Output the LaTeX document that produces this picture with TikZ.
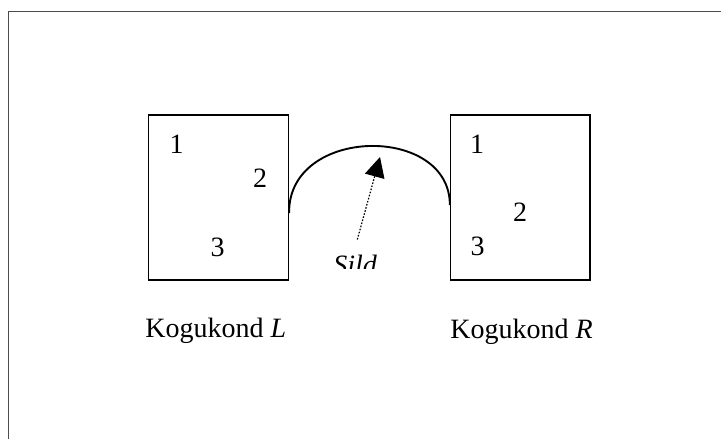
\documentclass[tikz,border=0pt]{standalone}
\usepackage{fontspec}
\setmainfont{Liberation Serif}
\usetikzlibrary{arrows.meta}
\begin{document}
\begin{tikzpicture}[x=0.5pt,y=-0.5pt,
  frameline/.style={draw=black!70, line width=0.7pt},
  boxline/.style={draw=black, line width=0.8pt},
  lbl/.style={inner sep=0pt, anchor=base, font=\fontsize{14pt}{16pt}\selectfont},
  arcline/.style={line width=0.95pt},
  dotline/.style={line width=0.6pt, dash pattern=on 0.8pt off 0.8pt}]
\useasboundingbox (0,0) rectangle (721,439);
% outer frame (cut off at right and bottom)
\coordinate (fbl) at (8.3,439);
\coordinate (ftl) at (8.3,11.7);
\coordinate (ftr) at (721,11.7);
\draw[frameline] (fbl) -- (ftl) -- (ftr);
% boxes
\node[boxline, minimum width=140pt*0.5, minimum height=165pt*0.5, inner sep=0pt] (boxL) at (218.3,197.5) {};
\node[boxline, minimum width=139.3pt*0.5, minimum height=165pt*0.5, inner sep=0pt] (boxR) at (520.3,197.5) {};
% numbers left
\node[lbl] (l1) at (176.7,153.3) {1};
\node[lbl] (l2) at (260,187) {2};
\node[lbl] (l3) at (217.7,256) {3};
% numbers right
\node[lbl] (r1) at (477,153.3) {1};
\node[lbl] (r2) at (520,221.5) {2};
\node[lbl] (r3) at (477.7,255.5) {3};
% arc
\coordinate (aL) at (boxL.east |- 0,213);
\coordinate (aR) at (boxR.west |- 0,205);
\draw[arcline] (aL) .. controls (288,126) and (450,124) .. (aR);
% arrow
\coordinate (as) at (357.3,239.5);
\coordinate (at) at (380,157);
\draw[dotline, -{Triangle[length=10pt,width=10pt]}] (as) -- (at);
% Sild (clipped)
\begin{scope}
\clip (300,240) rectangle (420,268.5);
\node[lbl, anchor=base west] (sild) at (333,274) {\itshape Sild};
\end{scope}
% captions
\node[lbl, anchor=base west] (capL) at (145,337.5) {Kogukond \textit{L}};
\node[lbl, anchor=base west] (capR) at (450,338) {Kogukond \textit{R}};
\end{tikzpicture}
\end{document}
